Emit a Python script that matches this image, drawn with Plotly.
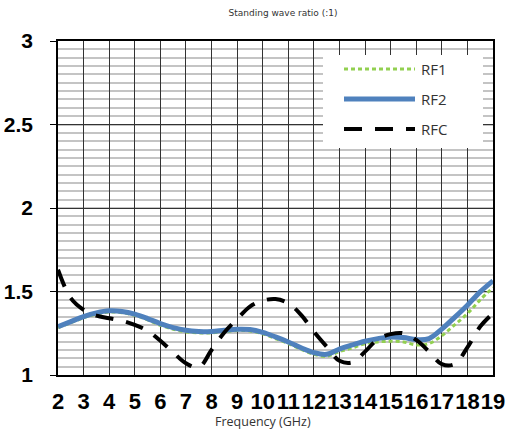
import plotly.graph_objects as go

# Frequency samples (GHz)
freq = [2.0, 2.5, 3.0, 3.5, 4.0, 4.5, 5.0, 5.5, 6.0, 6.5, 7.0, 7.5, 8.0, 8.5, 9.0, 9.5,
        10.0, 10.5, 11.0, 11.5, 12.0, 12.5, 13.0, 13.5, 14.0, 14.5, 15.0, 15.5, 16.0,
        16.5, 17.0, 17.5, 18.0, 18.5, 19.0]

rf1 = [1.284, 1.313, 1.343, 1.365, 1.377, 1.373, 1.357, 1.330, 1.298, 1.274, 1.258, 1.252,
       1.252, 1.260, 1.266, 1.264, 1.246, 1.218, 1.188, 1.153, 1.124, 1.112, 1.140, 1.162,
       1.188, 1.198, 1.202, 1.198, 1.180, 1.188, 1.235, 1.300, 1.368, 1.450, 1.524]

rf2 = [1.290, 1.320, 1.350, 1.372, 1.384, 1.380, 1.364, 1.338, 1.308, 1.284, 1.268, 1.261,
       1.260, 1.268, 1.274, 1.272, 1.255, 1.228, 1.198, 1.163, 1.134, 1.124, 1.155, 1.180,
       1.202, 1.218, 1.228, 1.224, 1.212, 1.218, 1.275, 1.345, 1.418, 1.498, 1.564]

rfc = [1.630, 1.460, 1.390, 1.355, 1.340, 1.325, 1.300, 1.265, 1.205, 1.135, 1.070, 1.045,
       1.150, 1.255, 1.335, 1.410, 1.445, 1.455, 1.430, 1.360, 1.260, 1.170, 1.085, 1.075,
       1.140, 1.215, 1.245, 1.250, 1.210, 1.140, 1.065, 1.065, 1.165, 1.290, 1.370]

series_names = ["RF1", "RF2", "RFC"]
x_ticks = list(range(2, 20))
y_ticks = [1, 1.5, 2, 2.5, 3]

GREEN = "#92D050"
BLUE = "#4F81BD"
BLACK = "#000000"

fig = go.Figure()
fig.add_trace(go.Scatter(x=freq, y=rf1, mode="lines", name=series_names[0],
                         line=dict(color=GREEN, width=3, dash="4px,3px", shape="spline")))
fig.add_trace(go.Scatter(x=freq, y=rf2, mode="lines", name=series_names[1],
                         line=dict(color=BLUE, width=5, shape="spline")))
fig.add_trace(go.Scatter(x=freq, y=rfc, mode="lines", name=series_names[2],
                         line=dict(color=BLACK, width=4, dash="18px,13px", shape="spline")))

W, H = 506, 437
L, R, T, B = 58, 13, 41, 62
pw, ph = W - L - R, H - T - B

def px_x(p):
    return (p - L) / pw

def px_y(p):
    return (H - B - p) / ph

# Manual legend
shapes = [dict(type="rect", xref="paper", yref="paper",
               x0=px_x(323), x1=px_x(483), y0=px_y(148), y1=px_y(55),
               fillcolor="white", line=dict(width=0), layer="above")]
styles = [dict(color=GREEN, width=3, dash="4px,3px"),
          dict(color=BLUE, width=5),
          dict(color=BLACK, width=4, dash="18px,13px")]
rows = [69, 99, 129]
annotations = []
for name, st, ry in zip(series_names, styles, rows):
    shapes.append(dict(type="line", xref="paper", yref="paper",
                       x0=px_x(344), x1=px_x(415), y0=px_y(ry), y1=px_y(ry),
                       line=st, layer="above"))
    annotations.append(dict(text=name, xref="paper", yref="paper", x=px_x(419), y=px_y(ry),
                            xanchor="left", yanchor="middle", showarrow=False,
                            font=dict(family="Open Sans", size=15, color="#333333")))

annotations.append(dict(text="Frequency (GHz)", xref="paper", yref="paper",
                        x=px_x(263), y=px_y(421), xanchor="center", yanchor="middle",
                        showarrow=False, font=dict(family="Open Sans", size=12.5, color="#333333")))

fig.update_layout(
    width=W, height=H,
    autosize=False,
    margin=dict(l=L, r=R, t=T, b=B, pad=0),
    paper_bgcolor="white", plot_bgcolor="white",
    showlegend=False,
    title=dict(text="Standing wave ratio (:1)", x=283 / W, xanchor="center",
               y=1 - 13 / H, yanchor="middle", automargin=False,
               font=dict(family="DejaVu Sans", size=9, color="#333333")),
    shapes=shapes,
    annotations=annotations,
    xaxis=dict(range=[2, 19], tickmode="array", tickvals=x_ticks,
               ticktext=[str(v) for v in x_ticks], automargin=False, tickangle=0,
               showgrid=True, gridcolor="#333333", gridwidth=1,
               showline=True, linecolor="black", linewidth=1.5, mirror=True,
               ticks="", ticklabelstandoff=6,
               tickfont=dict(family="Liberation Sans", size=22, weight="bold", color="black"),
               zeroline=False, fixedrange=True),
    yaxis=dict(range=[1, 3], tickmode="array", tickvals=y_ticks,
               ticktext=["1", "1.5", "2", "2.5", "3"], automargin=False,
               showgrid=True, gridcolor="#333333", gridwidth=1,
               minor=dict(dtick=0.05, tick0=1, showgrid=True, gridcolor="#c4c4c4", gridwidth=1.5),
               showline=True, linecolor="black", linewidth=1.5, mirror=True,
               ticks="outside", ticklen=6, tickcolor="black", ticklabelstandoff=13,
               tickfont=dict(family="Liberation Sans", size=21, weight="bold", color="black"),
               zeroline=False, fixedrange=True),
)

fig.write_html("out.html", config={"displayModeBar": False},
               post_script="document.body.style.margin='0';document.body.style.overflow='hidden';")
